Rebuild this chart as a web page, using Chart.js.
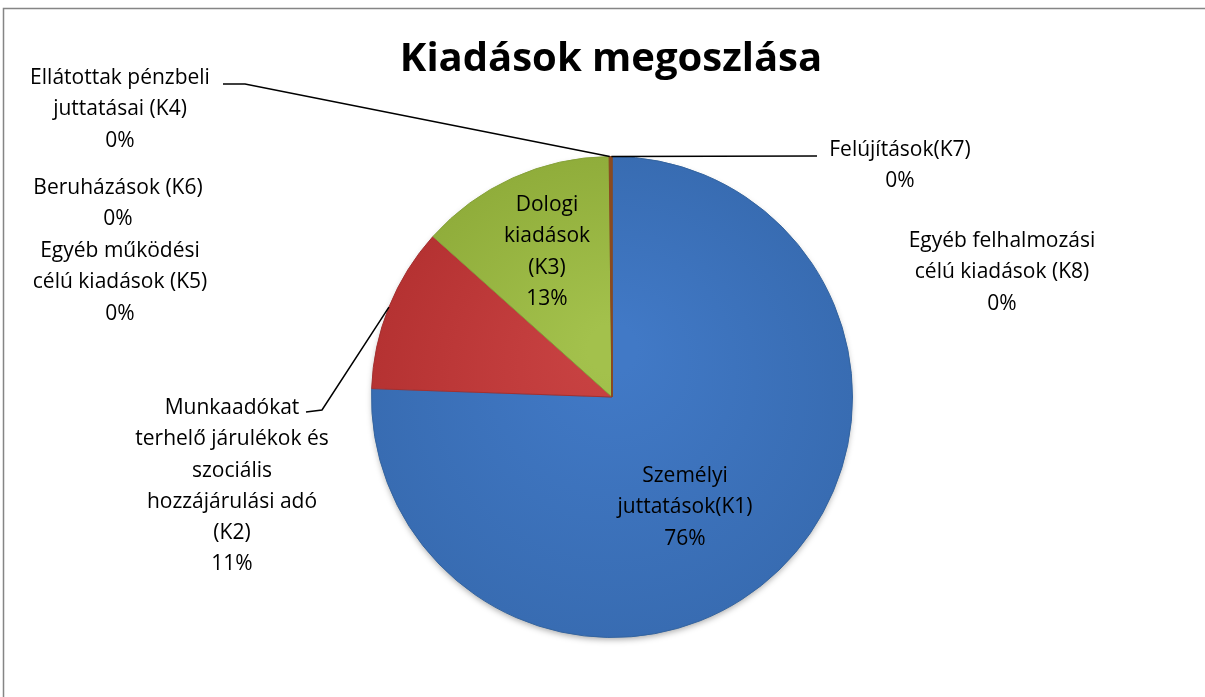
<!DOCTYPE html>
<html>
<head>
<meta charset="utf-8">
<script src="https://cdn.jsdelivr.net/npm/chart.js@4"></script>
<style>
  body { margin: 0; background: #fff; }
  #wrap { width: 1205px; height: 697px; }
</style>
</head>
<body>
<div id="wrap"><canvas id="pie" width="1205" height="697"></canvas></div>
<script>
/* -------------------- DATA -------------------- */
const chartTitle = "Kiadások megoszlása";
const categories = [
    "Személyi juttatások(K1)",
    "Munkaadókat terhelő járulékok és szociális hozzájárulási adó (K2)",
    "Dologi kiadások (K3)",
    "Ellátottak pénzbeli juttatásai (K4)",
    "Egyéb működési célú kiadások (K5)",
    "Beruházások (K6)",
    "Felújítások(K7)",
    "Egyéb felhalmozási célú kiadások (K8)"
];
const shares = [75.7, 11.1, 13.2, 0.08, 0.02, 0.02, 0.06, 0.01];

// how each label is wrapped, as in the original
const labelLines = [
    ["Személyi", "juttatások(K1)"],
    ["Munkaadókat", "terhelő járulékok és", "szociális", "hozzájárulási adó", "(K2)"],
    ["Dologi", "kiadások", "(K3)"],
    ["Ellátottak pénzbeli", "juttatásai (K4)"],
    ["Egyéb működési", "célú kiadások (K5)"],
    ["Beruházások (K6)"],
    ["Felújítások(K7)"],
    ["Egyéb felhalmozási", "célú kiadások (K8)"]
];

/* -------------------- STYLE -------------------- */
const sliceColors = [
    ["#4179c6", "#386cb2"],
    ["#c84242", "#b53232"],
    ["#a3c14c", "#90ad3b"],
    ["#9a5a28", "#8a4a20"],
    ["#9a5a28", "#8a4a20"],
    ["#9a5a28", "#8a4a20"],
    ["#9a5a28", "#8a4a20"],
    ["#9a5a28", "#8a4a20"]
];
const borderColors = ["#34649f", "#a43030", "#86a23a", "#8a4a20", "#8a4a20", "#8a4a20", "#8a4a20", "#8a4a20"];

// label block centre (x) and first line (y), relative to pie centre
const labelPos = [
    [73, 79], [-380, 11], [-65, -192], [-492, -319],
    [-492, -146], [-494, -209], [288, -247], [390, -156]
];
// leader lines: points relative to pie centre, drawn from the slice edge
const leaders = {
    1: [[-290, 13], [-306, 15]],
    3: [[-367, -313], [-389, -313]],
    6: [[205, -241]]
};

const FONT = "'Open Sans', sans-serif";
const LINE_H = 31.3;

/* -------------------- PLUGIN -------------------- */
const decor = {
    id: "decor",
    beforeDraw(chart) {
        const ctx = chart.ctx;
        ctx.save();
        ctx.strokeStyle = "#858585";
        ctx.lineWidth = 1.5;
        ctx.strokeRect(3.5, 8.5, 1230, 720);
        ctx.fillStyle = "#000";
        ctx.font = "bold 40px " + FONT;
        ctx.textAlign = "center";
        ctx.textBaseline = "middle";
        ctx.fillText(chartTitle, 611, 60);
        ctx.restore();
    },
    beforeDatasetsDraw(chart) {
        const arc = chart.getDatasetMeta(0).data[0];
        const ctx = chart.ctx;
        ctx.save();
        ctx.shadowColor = "rgba(0,0,0,0.35)";
        ctx.shadowBlur = 6;
        ctx.shadowOffsetY = 3;
        ctx.beginPath();
        ctx.arc(arc.x, arc.y, arc.outerRadius - 1, 0, Math.PI * 2);
        ctx.fillStyle = "#fff";
        ctx.fill();
        ctx.restore();
    },
    afterDatasetsDraw(chart) {
        const ctx = chart.ctx;
        const meta = chart.getDatasetMeta(0);
        const total = shares.reduce((a, b) => a + b, 0);
        ctx.save();
        ctx.font = "21px " + FONT;
        ctx.textAlign = "center";
        ctx.textBaseline = "middle";

        meta.data.forEach((arc, i) => {
            const cx = arc.x, cy = arc.y;
            // leader line
            if (leaders[i]) {
                const mid = (arc.startAngle + arc.endAngle) / 2;
                ctx.beginPath();
                ctx.strokeStyle = "#000";
                ctx.lineWidth = 1.5;
                ctx.moveTo(cx + Math.cos(mid) * arc.outerRadius, cy + Math.sin(mid) * arc.outerRadius);
                leaders[i].forEach(p => ctx.lineTo(cx + p[0], cy + p[1]));
                ctx.stroke();
            }
            const pct = Math.round(shares[i] / total * 100) + "%";
            const lines = labelLines[i].concat([pct]);
            ctx.fillStyle = "#000";
            lines.forEach((t, k) => {
                ctx.fillText(t, cx + labelPos[i][0], cy + labelPos[i][1] + k * LINE_H);
            });
        });
        ctx.restore();
    }
};

/* -------------------- CHART -------------------- */
function sliceFill(context) {
    const i = context.dataIndex;
    const chart = context.chart;
    const area = chart.chartArea;
    if (!area) return sliceColors[i][0];
    const cx = (area.left + area.right) / 2;
    const cy = (area.top + area.bottom) / 2;
    const r = Math.min(area.right - area.left, area.bottom - area.top) / 2;
    const g = chart.ctx.createRadialGradient(cx, cy - r * 0.2, r * 0.1, cx, cy, r);
    g.addColorStop(0, sliceColors[i][0]);
    g.addColorStop(1, sliceColors[i][1]);
    return g;
}

new Chart(document.getElementById("pie"), {
    type: "pie",
    data: {
        labels: categories,
        datasets: [{
            data: shares,
            backgroundColor: sliceFill,
            borderColor: borderColors,
            borderWidth: 1
        }]
    },
    options: {
        responsive: false,
        animation: false,
        layout: { padding: { left: 371, right: 352, top: 156, bottom: 59 } },
        plugins: {
            legend: { display: false },
            tooltip: { enabled: false },
            title: { display: false }
        }
    },
    plugins: [decor]
});
</script>
</body>
</html>
